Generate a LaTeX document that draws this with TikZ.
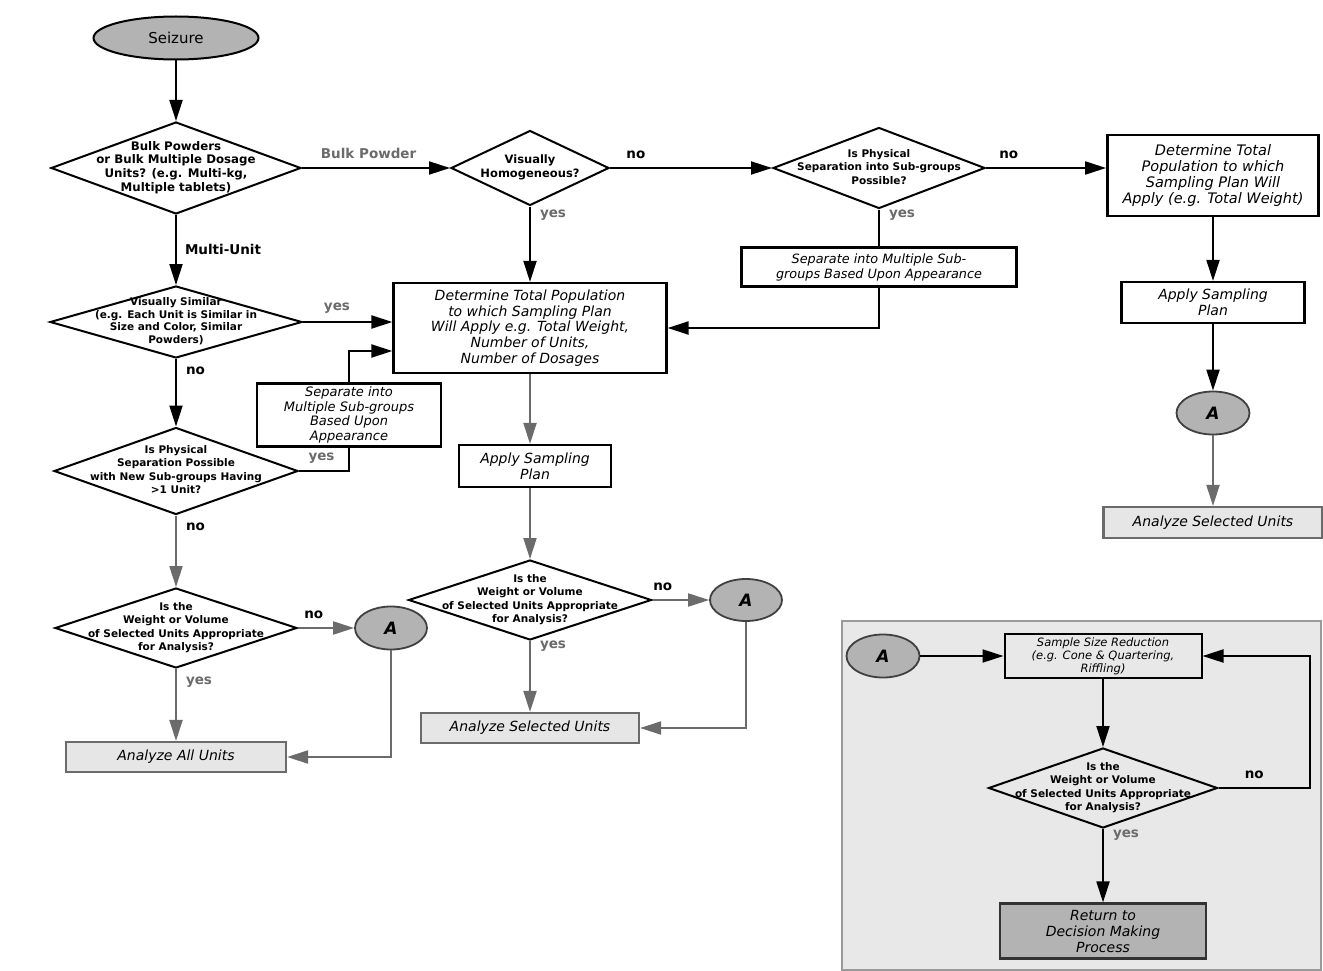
\documentclass[tikz,border=0pt]{standalone}
\usepackage{fontspec}
\setmainfont{DejaVu Sans}
\usetikzlibrary{shapes.geometric}
\usetikzlibrary{arrows.meta}
\usetikzlibrary{calc}
\definecolor{LineGray}{HTML}{6B6B6B}
\definecolor{FillGray}{HTML}{B3B3B3}
\definecolor{BoxGray}{HTML}{E6E6E6}
\definecolor{PanelGray}{HTML}{E8E8E8}
\newcommand{\qbox}[1]{\smash{\raisebox{-0.25em}{\makebox[0pt]{\begin{tabular}{@{}c@{}}#1\end{tabular}}}}}
\tikzset{
  terminal/.style={ellipse, draw, line width=2pt, fill=FillGray, inner sep=0pt,
    font=\fontsize{15}{15}\selectfont},
  decision/.style={diamond, draw, line width=2pt, inner sep=0pt,
    font=\bfseries\fontsize{10.5}{13.5}\selectfont},
  procbox/.style={rectangle, draw, line width=2.2pt, fill=white, inner sep=0pt, align=center,
    font=\itshape\fontsize{14}{15.8}\selectfont},
  endbox/.style={procbox, draw=LineGray, fill=BoxGray, line width=2.2pt},
  connector/.style={ellipse, draw=black!75, line width=1.8pt, fill=FillGray, inner sep=0pt,
    font=\bfseries\itshape\fontsize{17}{17}\selectfont},
  panel/.style={rectangle, draw=black!40, line width=1.8pt, fill=PanelGray},
  flow/.style={line width=2pt, -{Triangle[length=21pt,width=13pt]}},
  flowgray/.style={flow, draw=LineGray},
  plain/.style={line width=2pt},
  lbl/.style={inner sep=0pt, font=\bfseries\fontsize{13.5}{13.5}\selectfont},
  lblgray/.style={lbl, text=LineGray},
}
\begin{document}
\begin{tikzpicture}[x=1pt,y=-1pt]
    \useasboundingbox (0,0) rectangle (1323,971);
    \fill[white] (0,0) rectangle (1323,971);

    % Inset panel
    \node[panel, minimum width=479pt, minimum height=349pt] (inset) at (1081.5,795.5) {};

    % Top row
    \node[terminal, minimum width=165pt, minimum height=43pt] (seizure) at (176,38) {Seizure};
    \node[decision, minimum width=250pt, minimum height=92pt,
      font=\bfseries\fontsize{11.8}{13.7}\selectfont] (bulk) at (176,168)
      {\qbox{Bulk Powders\\or Bulk Multiple Dosage\\Units? (e.g. Multi-kg,\\Multiple tablets)}};
    \node[decision, minimum width=158pt, minimum height=75pt,
      font=\bfseries\fontsize{11.5}{13.5}\selectfont] (homog) at (530,168)
      {\qbox{Visually\\Homogeneous?}};
    \node[decision, minimum width=212pt, minimum height=81pt] (sepsub) at (879,168)
      {\qbox{Is Physical\\Separation into Sub-groups\\Possible?}};
    \node[procbox, line width=2.8pt, minimum width=211pt, minimum height=81pt,
      font=\itshape\fontsize{14.5}{16}\selectfont] (totalR) at (1213,175.5)
      {Determine Total\\Population to which\\Sampling Plan Will\\Apply (e.g. Total Weight)};

    % Right column
    \node[procbox, minimum width=183pt, minimum height=41pt] (applyR) at (1213,302.5) {Apply Sampling\\Plan};
    \node[connector, minimum width=73pt, minimum height=43pt] (aR) at (1213,413) {A};
    \node[endbox, minimum width=219pt, minimum height=31pt] (selR) at (1213,522.5) {Analyze Selected Units};
    \node[procbox, minimum width=275pt, minimum height=39pt,
      font=\itshape\fontsize{12.8}{15}\selectfont] (sepR) at (879,267)
      {Separate into Multiple Sub-\\groups Based Upon Appearance};

    % Middle column
    \node[procbox, minimum width=273pt, minimum height=90pt] (total) at (530,328)
      {Determine Total Population\\to which Sampling Plan\\Will Apply e.g. Total Weight,\\Number of Units,\\Number of Dosages};
    \node[procbox, minimum width=152pt, minimum height=42pt] (applyM) at (535,466) {Apply Sampling\\Plan};
    \node[decision, minimum width=243pt, minimum height=80pt] (weightM) at (530,600)
      {\qbox{Is the\\Weight or Volume\\of Selected Units Appropriate\\for Analysis?}};
    \node[connector, minimum width=72pt, minimum height=42pt] (aM) at (746,600) {A};
    \node[endbox, minimum width=218pt, minimum height=30pt] (selM) at (530,728) {Analyze Selected Units};

    % Left column
    \node[decision, minimum width=252pt, minimum height=72pt,
      font=\bfseries\fontsize{10.5}{12.8}\selectfont] (similar) at (176,322)
      {\qbox{Visually Similar\\(e.g. Each Unit is Similar in\\Size and Color, Similar\\Powders)}};
    \node[procbox, minimum width=184pt, minimum height=63pt,
      font=\itshape\fontsize{13}{14.7}\selectfont] (sepL) at (349,415)
      {Separate into\\Multiple Sub-groups\\Based Upon\\Appearance};
    \node[decision, minimum width=244pt, minimum height=87pt] (physL) at (176,471)
      {\qbox{Is Physical\\Separation Possible\\with New Sub-groups Having\\>1 Unit?}};
    \node[decision, minimum width=242pt, minimum height=80pt] (weightL) at (176,628)
      {\qbox{Is the\\Weight or Volume\\of Selected Units Appropriate\\for Analysis?}};
    \node[connector, minimum width=72pt, minimum height=43pt] (aL) at (391,628) {A};
    \node[endbox, minimum width=220pt, minimum height=30pt] (allL) at (176,757) {Analyze All Units};

    % Panel contents
    \node[connector, minimum width=73pt, minimum height=43pt] (aP) at (883,656) {A};
    \node[procbox, line width=2pt, fill=none, minimum width=197pt, minimum height=44pt,
      font=\itshape\fontsize{11.5}{13}\selectfont] (reduce) at (1103,656)
      {Sample Size Reduction\\(e.g. Cone \& Quartering,\\Riffling)};
    \node[decision, minimum width=229pt, minimum height=80pt] (weightP) at (1103,788)
      {\qbox{Is the\\Weight or Volume\\of Selected Units Appropriate\\for Analysis?}};
    \node[procbox, draw=black!80, fill=FillGray, minimum width=206pt, minimum height=55pt,
      font=\itshape\fontsize{14}{16}\selectfont] (back) at (1103,931)
      {Return to\\Decision Making\\Process};
    \coordinate (loop) at (1310,788);
    \coordinate (total-in) at ($(total.west)+(0,23)$);

    % Connectors, top row
    \draw[flow] (seizure) -- (bulk);
    \draw[flow] (bulk) -- node[lblgray, above=8pt, pos=0.45] (lbulk) {Bulk Powder} (homog);
    \draw[flow] (homog) -- node[lbl, above=8pt, pos=0.16] (lhomogno) {no} (sepsub);
    \draw[flow] (sepsub.east) -- node[lbl, above=8pt, pos=0.19] (lsepno) {no} (sepsub.east -| totalR.west);
    \draw[flow] (homog) -- node[lblgray, right=9pt, pos=0.12] (lhomogyes) {yes} (total);
    \draw[plain] (sepsub) -- node[lblgray, right=9pt, pos=0.15] (lsepyes) {yes} (sepR);
    \draw[flow] (sepR.south) |- (total.east);

    % Connectors, right column
    \draw[flow] (totalR) -- (applyR);
    \draw[flow] (applyR) -- (aR);
    \draw[flowgray] (aR) -- (selR);

    % Connectors, left column
    \draw[flow] (bulk) -- node[lbl, right=8pt, pos=0.49] (lmulti) {Multi-Unit} (similar);
    \draw[flow] (similar.east) -- node[lblgray, above=8pt, pos=0.38] (lsimyes) {yes} (similar.east -| total.west);
    \draw[flow] (sepL.north) |- (total-in);
    \draw[flow] (similar) -- node[lbl, right=9pt, pos=0.17] (lsimno) {no} (physL);
    \draw[plain] (physL.east) -| node[lblgray, above=7pt, pos=0.225] (lphysyes) {yes} (sepL.south);
    \draw[flowgray] (physL) -- node[lbl, right=9pt, pos=0.16] (lphysno) {no} (weightL);
    \draw[flowgray] (weightL) -- node[lbl, above=8pt, pos=0.28] (lwlno) {no} (aL);
    \draw[flowgray] (weightL) -- node[lblgray, right=9pt, pos=0.19] (lwlyes) {yes} (allL);
    \draw[flowgray] (aL.south) |- (allL.east);

    % Connectors, middle column
    \draw[flowgray] (total) -- (total |- applyM.north);
    \draw[flowgray] (weightM |- applyM.south) -- (weightM);
    \draw[flowgray] (weightM) -- node[lbl, above=8pt, pos=0.18] (lwmno) {no} (aM);
    \draw[flowgray] (weightM) -- node[lblgray, right=9pt, pos=0.07] (lwmyes) {yes} (selM);
    \draw[flowgray] (aM.south) |- (selM.east);

    % Connectors, panel
    \draw[flow] (aP) -- (reduce);
    \draw[flow] (reduce) -- (weightP);
    \draw[flow] (weightP) -- node[lblgray, right=9pt, pos=0.09] (lwpyes) {yes} (back);
    \draw[flow] (weightP.east) -- node[lbl, above=8pt, pos=0.39] (lwpno) {no} (loop) |- (reduce.east);

\end{tikzpicture}
\end{document}
